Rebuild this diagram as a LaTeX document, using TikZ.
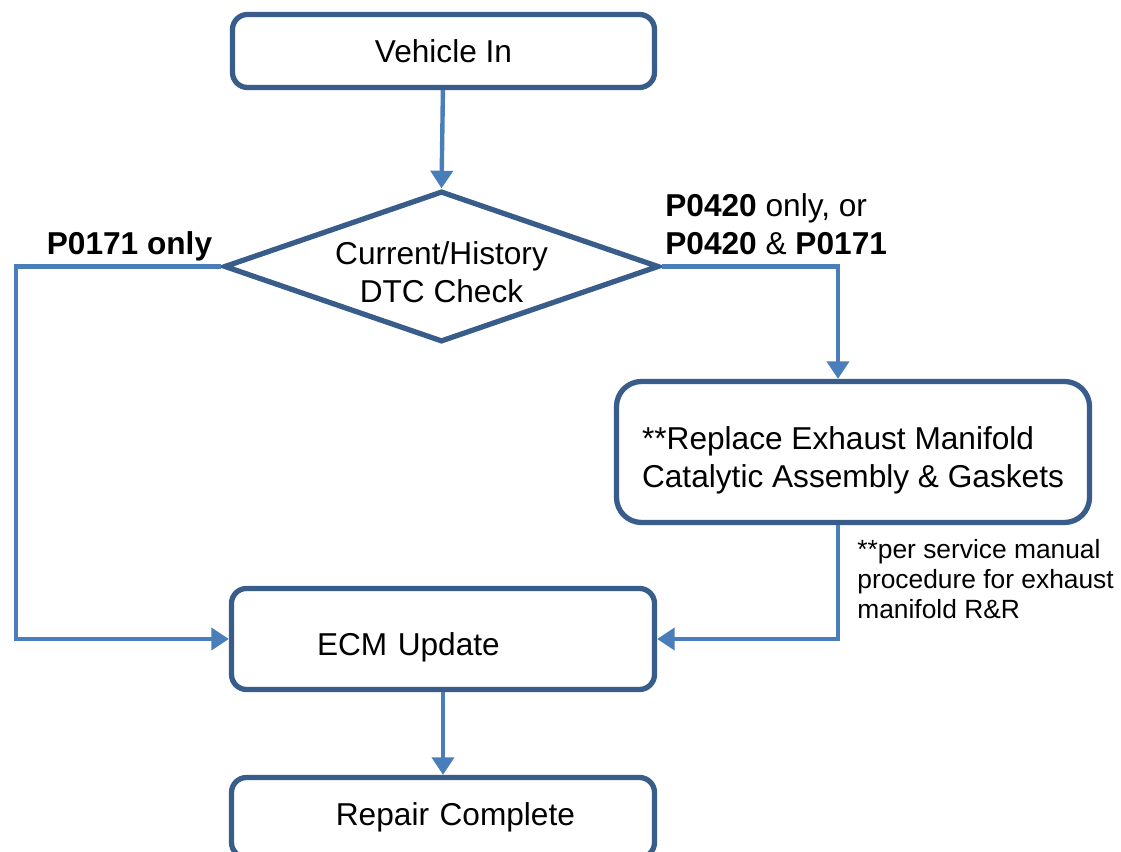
\documentclass[tikz,border=0pt]{standalone}
\usepackage{fontspec}
\setmainfont{Liberation Sans}
\usetikzlibrary{shapes.geometric,arrows.meta}
\definecolor{boxblue}{RGB}{56,93,138}
\definecolor{lineblue}{RGB}{74,126,187}

\begin{document}
\begin{tikzpicture}[
  box/.style={draw=boxblue, line width=3pt, rounded corners=0.3cm, inner sep=0pt,
    minimum width=8.46cm, minimum height=2.02cm, font=\fontsize{18}{21.6}\selectfont},
  decision/.style={draw=boxblue, line width=3pt, diamond, aspect=2.88, inner sep=0pt,
    minimum width=8.7cm, minimum height=3.02cm, align=center, font=\fontsize{18}{21.6}\selectfont},
  link/.style={draw=lineblue, line width=2.5pt, -{Triangle[width=12.5pt,length=10pt]}},
  tag/.style={font=\fontsize{18}{21.6}\selectfont, inner sep=0pt}
]
\useasboundingbox (0,0) rectangle (22.42,17.04);

\node[box, minimum width=8.44cm, minimum height=1.46cm] (vin) at (8.87,16.02) {Vehicle In};
\node[decision, text height=40.6pt, text depth=0pt] (dtc) at (8.83,11.71) {Current/History\\DTC Check};
\node[box, rounded corners=0.5cm, minimum width=9.46cm, minimum height=2.82cm, align=left,
  text height=43.7pt, text depth=3.8pt] (rep) at (17.06,8.00)
  {**Replace Exhaust Manifold\\Catalytic Assembly \& Gaskets};
\node[box, text width=5.04cm, inner xsep=1.71cm, align=left, text height=23pt, text depth=3.8pt] (ecm) at (8.86,4.26) {ECM Update};
\node[box, minimum height=1.6cm, text width=5.28cm, inner xsep=1.59cm, align=right] (done) at (8.86,0.69) {Repair Complete};

% branch labels
\node[tag] (lbl1) at (2.59,12.12) {\textbf{P0171 only}};
\node[tag, anchor=west, align=left] (lbl2) at (13.3,12.55) {\textbf{P0420} only, or\\\textbf{P0420} \& \textbf{P0171}};
\node[anchor=west, align=left, inner sep=0pt, font=\fontsize{15}{17}\selectfont] (note) at (17.14,5.46)
  {**per service manual\\procedure for exhaust\\manifold R\&R};

\coordinate (lbend) at (0.32,11.71);

\draw[link] (vin) -- (dtc.north);
\draw[link] (dtc.west) -- (lbend) |- (ecm.west);
\draw[link] (dtc.east) -| ([xshift=-0.3cm]rep.north);
\draw[link] ([xshift=-0.3cm]rep.south) |- (ecm.east);
\draw[link] (ecm) -- (done);

\end{tikzpicture}
\end{document}
